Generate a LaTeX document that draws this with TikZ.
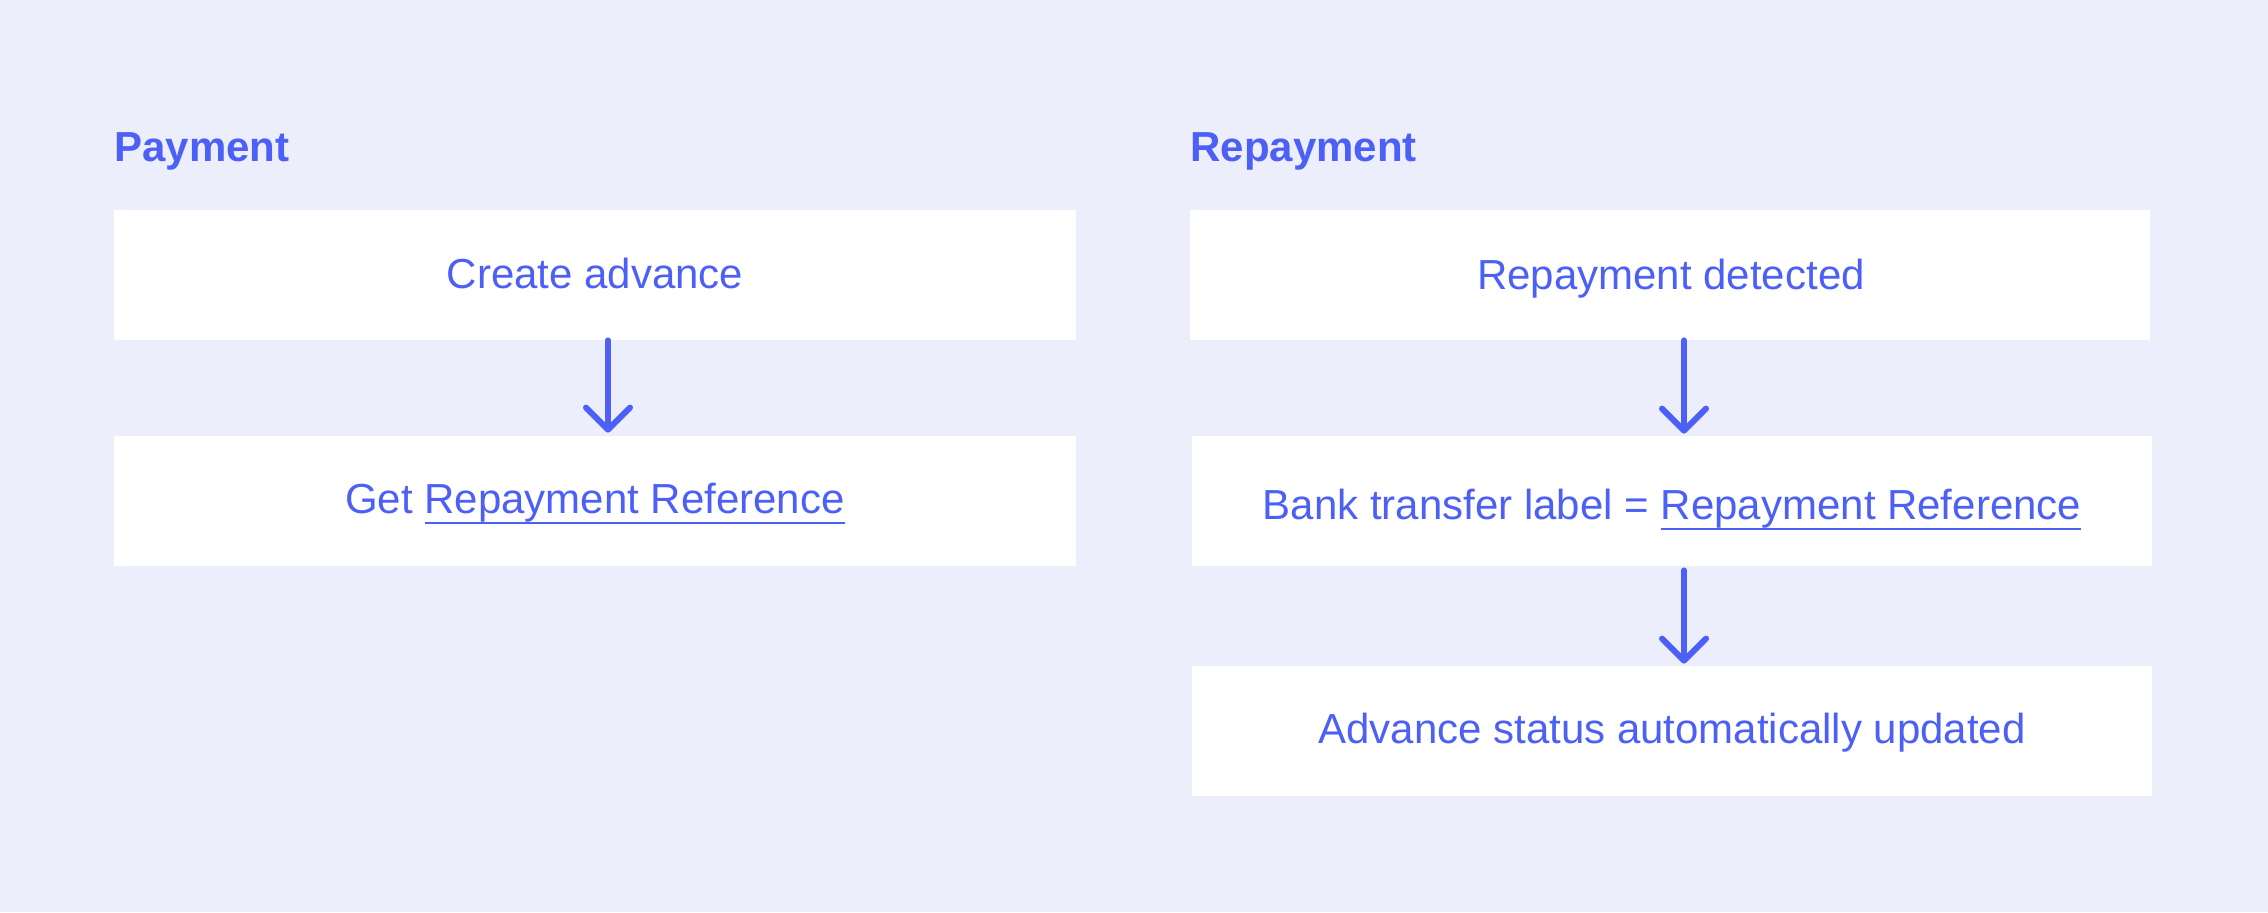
\documentclass[tikz,border=0pt]{standalone}
\usepackage{fontspec}
\setmainfont{Liberation Sans}
\usetikzlibrary{arrows.meta}
\definecolor{bg}{HTML}{ECEEFC}
\definecolor{ink}{HTML}{4C60F5}
\newcommand\myul[1]{\setbox0\hbox{#1}\rlap{\rule[-5.5pt]{\wd0}{1pt}}\box0}
\begin{document}
\begin{tikzpicture}[x=0.5pt,y=-0.5pt,
 box/.style={fill=white, draw=none, minimum width=481pt, minimum height=65pt, inner sep=0pt},
 txt/.style={text=ink, font=\fontsize{21}{25}\selectfont, anchor=base, inner sep=0pt},
 ttl/.style={text=ink, font=\fontsize{21}{25}\selectfont\bfseries, anchor=base west, inner sep=0pt},
 flow/.style={draw=ink, line width=3pt, line cap=round, -{Straight Barb[length=11pt,width=22pt,line cap=round,line join=round]}}]
\fill[bg] (0,0) rectangle (2268,912);
\useasboundingbox (0,0) rectangle (2268,912);
\node[ttl] (t1) at (114,161) {Payment};
\node[ttl] (t2) at (1190,161) {Repayment};
\node[box] (b1) at (595,275) {};
\node[box] (b2) at (595,501) {};
\node[box, minimum width=480pt] (b3) at (1670,275) {};
\node[box, minimum width=480pt] (b4) at (1672,501) {};
\node[box, minimum width=480pt] (b5) at (1672,731) {};
\node[txt] (l1) at (595,288) {Create advance};
\node[txt] (l2) at (595,513) {Get \myul{Repayment Reference}};
\node[txt] (l3) at (1671,289) {Repayment detected};
\node[txt] (l4) at (1672,519) {Bank transfer label = \myul{Repayment Reference}};
\node[txt] (l5) at (1672,743) {Advance status automatically updated};
\draw[flow, shorten >=1.5pt] ([xshift=6.5pt]b1.south) -- ([xshift=6.5pt]b2.north);
\draw[flow, shorten >=1pt] ([xshift=7pt]b3.south) -- ([xshift=6pt]b4.north);
\draw[flow, shorten <=2pt, shorten >=1pt] ([xshift=6pt]b4.south) -- ([xshift=6pt]b5.north);
\end{tikzpicture}
\end{document}
